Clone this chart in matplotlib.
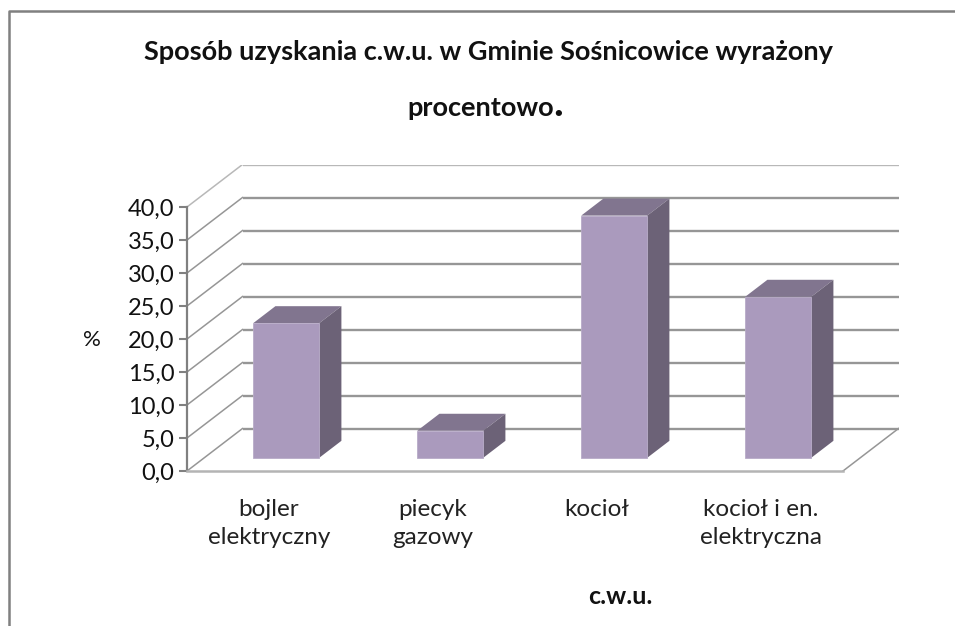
import matplotlib
matplotlib.use("Agg")
import matplotlib.pyplot as plt

categories = ["bojler\nelektryczny", "piecyk\ngazowy", "kocioł", "kocioł i en.\nelektryczna"]
values = [20.4, 4.1, 36.7, 24.4]
y_ticks = [0, 5, 10, 15, 20, 25, 30, 35, 40]
y_labels = ["0,0", "5,0", "10,0", "15,0", "20,0", "25,0", "30,0", "35,0", "40,0"]
title_line1 = "Sposób uzyskania c.w.u. w Gminie Sośnicowice wyrażony"
title_line2 = "procentowo"
x_title = "c.w.u."
y_title = "%"

W, H = 955, 626
plt.rcParams["font.family"] = ["Lato", "DejaVu Sans"]
fig = plt.figure(figsize=(W / 100, H / 100), dpi=100, facecolor="white")

# pixel box of the axes
L, R, B, T = 187, 899.3, 471, 165
ax = fig.add_axes([L / W, 1 - B / H, (R - L) / W, (B - T) / H])
px_x, px_y = 164.0, 6.6
ax.set_xlim(-0.5, -0.5 + (R - L) / px_x)
ax.set_ylim(0, (B - T) / px_y)
ax.patch.set_visible(False)

depth_x, depth_y = 55.5 / px_x, 42.5 / px_y
d0, d1 = 0.31, 0.71
bar_w = 66 / px_x
n = len(categories)
x_left, x_right = -0.5, n - 0.5
GRID = "#969696"

# walls and floor
for v in y_ticks:
    col = "#b8b8b8" if v == 40 else GRID
    ax.plot([x_left, x_left + depth_x], [v, v + depth_y], color=col, lw=1.1, zorder=1)
    ax.plot([x_left + depth_x, x_right + depth_x], [v + depth_y, v + depth_y],
            color=col, lw=1.7, zorder=1, solid_capstyle="butt")
ax.plot([x_right, x_right + depth_x], [0, depth_y], color=GRID, lw=1.1, zorder=1)

# bars
xs = list(range(n))
ax.bar([x + d0 * depth_x for x in xs], values, width=bar_w, bottom=d0 * depth_y,
       color="#AA9ABD", edgecolor="#B8ABC8", linewidth=0.6, zorder=4)
for x, v in zip(xs, values):
    xf0 = x + d0 * depth_x - bar_w / 2
    xf1 = xf0 + bar_w
    ddx = (d1 - d0) * depth_x
    ddy = (d1 - d0) * depth_y
    yb = d0 * depth_y
    yt = yb + v
    ax.fill([xf0, xf1, xf1 + ddx, xf0 + ddx], [yt, yt, yt + ddy, yt + ddy],
            color="#81758F", lw=0, zorder=3)
    ax.fill([xf1, xf1 + ddx, xf1 + ddx, xf1], [yb, yb + ddy, yt + ddy, yt],
            color="#6C6277", lw=0, zorder=3)

# axes
for s in ["top", "right"]:
    ax.spines[s].set_visible(False)
ax.spines["left"].set_bounds(0, 40)
ax.spines["left"].set_color("#808080")
ax.spines["left"].set_linewidth(1.6)
ax.spines["bottom"].set_bounds(x_left, x_right)
ax.spines["bottom"].set_color("#b4b4b4")
ax.spines["bottom"].set_linewidth(1.8)
ax.set_yticks(y_ticks, y_labels, fontsize=17, color="#111111")
ax.tick_params(axis="y", length=6, width=1.5, color="#808080", pad=3)
ax.set_xticks(xs, categories, fontsize=17.5, color="#222222", linespacing=1.42)
ax.tick_params(axis="x", length=0, pad=20)

# titles
def tx(px, py, s, **kw):
    fig.text(px / W, 1 - py / H, s, ha=kw.pop("ha", "center"), va="center", **kw)

tx(488, 52, title_line1, fontsize=19.5, fontweight="bold", color="#111111")
tx(481, 108, title_line2, fontsize=19.5, fontweight="bold", color="#111111")
tx(558, 104, ".", fontsize=30, fontweight="bold", color="#111111")
tx(620, 597, x_title, fontsize=18, fontweight="bold", color="#111111")
tx(92, 340, y_title, fontsize=16, color="#111111")

# outer frame
fig.add_artist(plt.Line2D([8.5 / W, 8.5 / W, 1], [0, 1 - 10.5 / H, 1 - 10.5 / H],
                          color="#808080", lw=1.8, transform=fig.transFigure))

fig.savefig("out.png", dpi=100, facecolor="white")
